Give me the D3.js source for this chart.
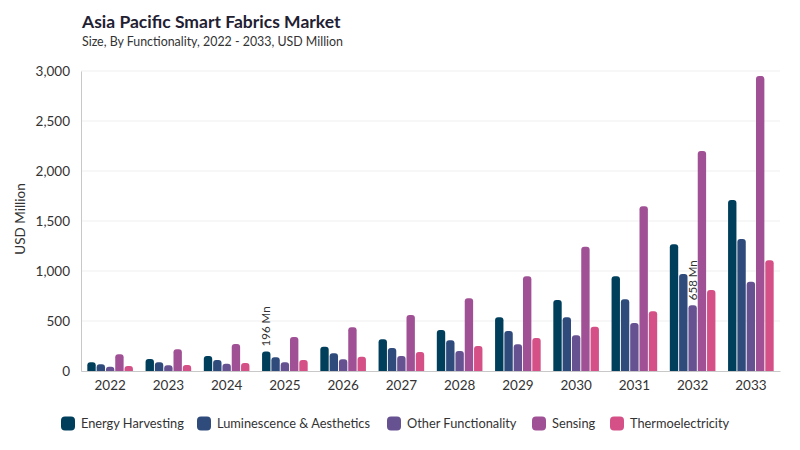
<!DOCTYPE html>
<html><head><meta charset="utf-8">
<script src="https://cdn.jsdelivr.net/npm/d3@7/dist/d3.min.js"></script>
<style>body{margin:0;background:#fff;} svg text{font-family:Lato,"DejaVu Sans",sans-serif;}</style>
</head><body><svg id="c" width="800" height="450"></svg>
<script>
const years = ["2022","2023","2024","2025","2026","2027","2028","2029","2030","2031","2032","2033"];
const seriesNames = ["Energy Harvesting","Luminescence & Aesthetics","Other Functionality","Sensing","Thermoelectricity"];
const energyHarvesting = [87,120,150,196,243,317,410,537,710,947,1267,1710];
const luminescence = [67,87,110,137,177,230,307,400,537,717,970,1320];
const otherFunctionality = [43,57,73,87,117,150,200,267,357,480,658,893];
const sensing = [167,217,270,340,437,560,727,947,1243,1647,2200,2950];
const thermoelectricity = [50,60,80,110,143,190,250,330,443,597,810,1107];
const colors = ["#003f5c","#2f4b7c","#665191","#a05195","#d45087"];
const yTicks = [0,500,1000,1500,2000,2500,3000];
const annotations = [{year:"2025", series:0, text:"196 Mn"},{year:"2032", series:2, text:"658 Mn"}];

const values = [energyHarvesting, luminescence, otherFunctionality, sensing, thermoelectricity];
const svg = d3.select("#c");
const m = {l:81, r:20, t:71, b:79};
const W = 800, H = 450;
const x0 = d3.scaleBand().domain(years).range([m.l, W - m.r]).paddingInner(0.217).paddingOuter(0.1085);
const x1 = d3.scaleBand().domain(d3.range(5)).range([0, x0.bandwidth()]).paddingInner(0.1);
const y = d3.scaleLinear().domain([0,3000]).range([H - m.b, m.t]);

svg.append("text").attr("x",82).attr("y",28).attr("font-size",17.5).attr("font-weight",700).attr("fill","#1f2133").text("Asia Pacific Smart Fabrics Market");
svg.append("text").attr("x",82).attr("y",46).attr("font-size",12.4).attr("fill","#333").text("Size, By Functionality, 2022 - 2033, USD Million");

// grid
svg.append("g").selectAll("line").data(yTicks.slice(1)).join("line")
  .attr("x1",m.l).attr("x2",W-m.r).attr("y1",d=>y(d)).attr("y2",d=>y(d))
  .attr("stroke","#efefef").attr("stroke-width",1);

const yAxis = svg.append("g").attr("transform",`translate(${m.l},0)`)
  .call(d3.axisLeft(y).tickValues(yTicks).tickFormat(d3.format(",")).tickSize(0).tickPadding(11));
yAxis.select(".domain").attr("stroke","#c8c8c8");
yAxis.selectAll("text").attr("font-size",13.5).attr("fill","#333").attr("font-family","Lato,sans-serif");

svg.append("text").attr("transform",`translate(25,219) rotate(-90)`)
  .attr("text-anchor","middle").attr("font-size",13.5).attr("fill","#333").text("USD Million");

function topRounded(xp, yp, w, h, r){
  r = Math.min(r, h, w/2);
  return `M${xp},${yp+h}V${yp+r}Q${xp},${yp} ${xp+r},${yp}H${xp+w-r}Q${xp+w},${yp} ${xp+w},${yp+r}V${yp+h}Z`;
}

const groups = svg.append("g").selectAll("g").data(years).join("g")
  .attr("transform", d=>`translate(${x0(d)},0)`);
groups.selectAll("path").data((d,i)=>values.map((s,k)=>({k, v:s[i]}))).join("path")
  .attr("d", d=>topRounded(x1(d.k), y(d.v), x1.bandwidth(), y(0)-y(d.v), 3))
  .attr("fill", d=>colors[d.k]);

const xAxis = svg.append("g").attr("transform",`translate(0,${y(0)})`)
  .call(d3.axisBottom(x0).tickSize(0).tickPadding(9));
xAxis.select(".domain").attr("stroke","#c8c8c8");
xAxis.selectAll("text").attr("font-size",13.5).attr("fill","#333").attr("font-family","Lato,sans-serif");

annotations.forEach(a=>{
  const i = years.indexOf(a.year);
  const v = values[a.series][i];
  const cx = x0(a.year) + x1(a.series) + x1.bandwidth()/2;
  svg.append("text").attr("transform",`translate(${cx+4},${y(v)-5}) rotate(-90)`)
    .attr("font-size",11.5).attr("fill","#333").text(a.text);
});

const legendX = [61,197,387,532,610];
const lg = svg.append("g");
seriesNames.forEach((n,k)=>{
  lg.append("rect").attr("x",legendX[k]).attr("y",416.5).attr("width",14).attr("height",14).attr("rx",4).attr("fill",colors[k]);
  lg.append("text").attr("x",legendX[k]+20).attr("y",428).attr("font-size",12.8).attr("fill","#333").text(n);
});
</script></body></html>
